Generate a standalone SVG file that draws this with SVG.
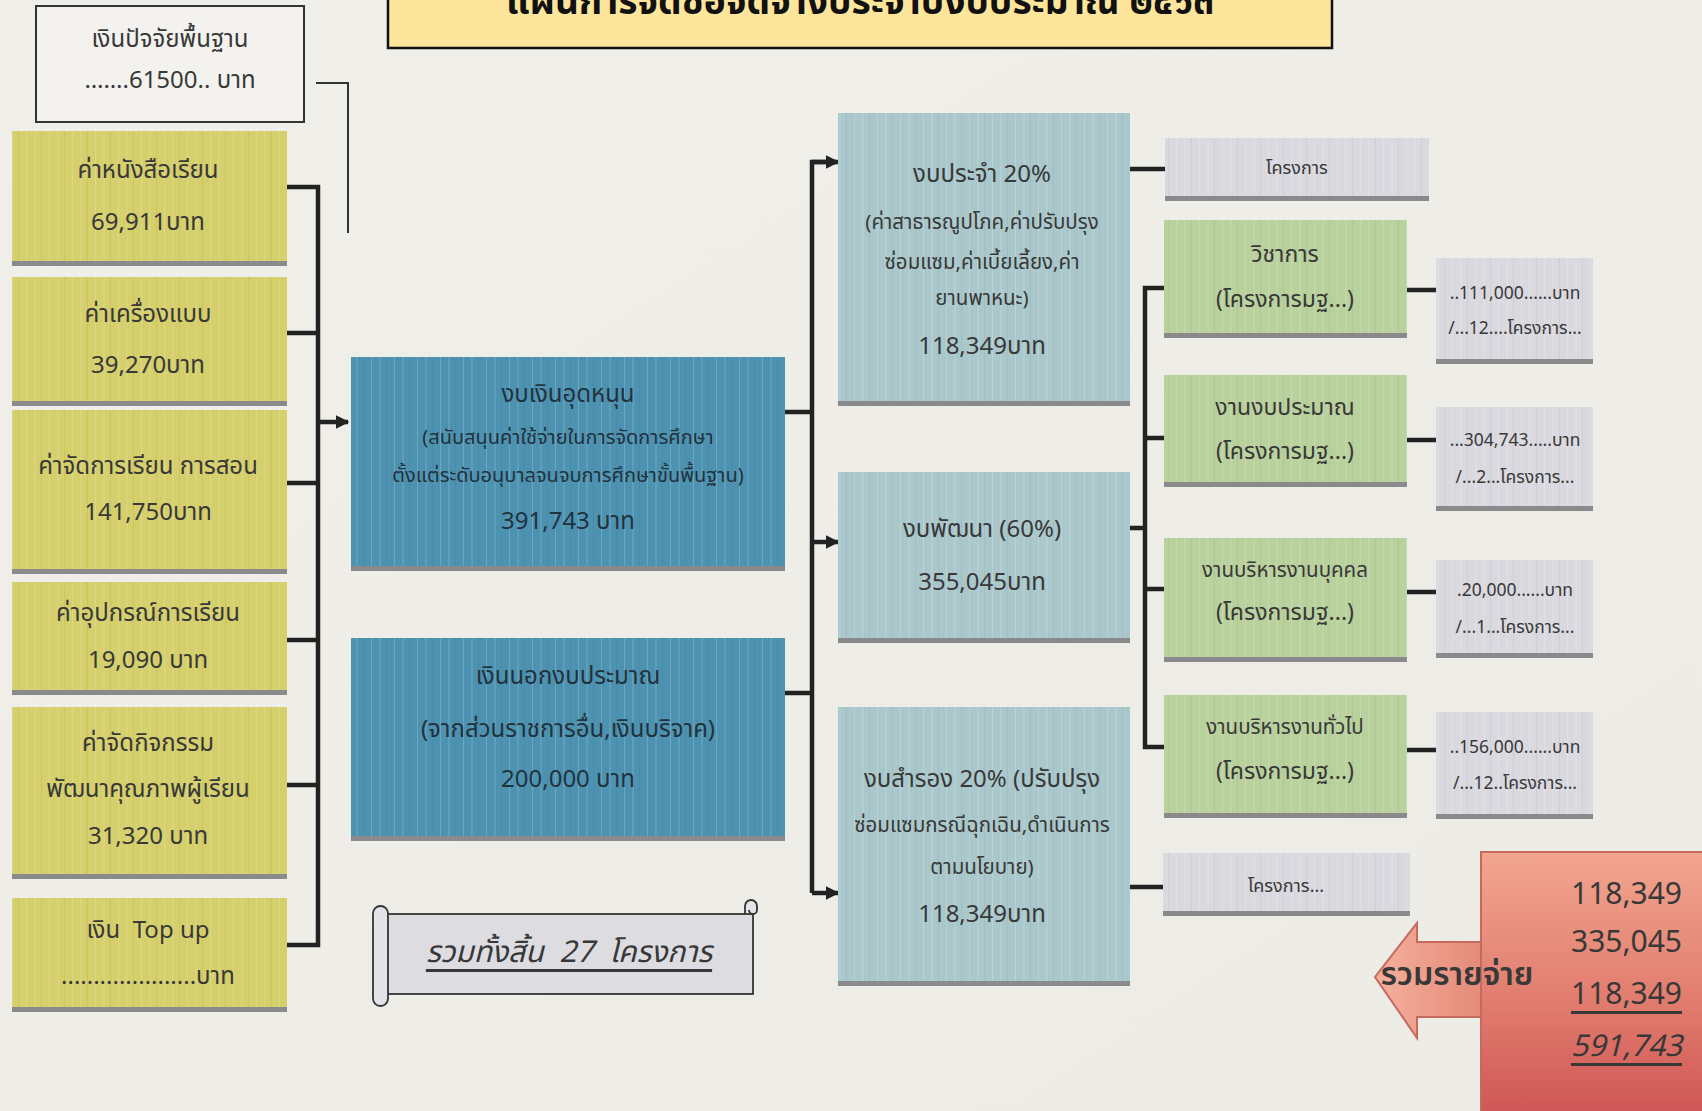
<svg xmlns="http://www.w3.org/2000/svg" width="1702" height="1111" viewBox="0 0 1702 1111">
<defs>
<style>
text{font-family:"Noto Sans Thai","Noto Sans","DejaVu Sans","Liberation Sans",sans-serif;fill:#383838;text-anchor:middle;dominant-baseline:central}
.t24{font-size:24px}
.t23{font-size:23px}
.t20{font-size:20.5px}
.t19{font-size:20px}
.t17{font-size:17.5px}
.t18{font-size:18px}
.yel{fill:#d5cf6c}
.blu{fill:#4d93b1}
.tea{fill:#aac8cb}
.grn{fill:#b9d19c}
.gry{fill:#d9d9df}
.bar{fill:#8a8a8c}
.tex{fill:url(#stripes)}
.wire{fill:none;stroke:#222;stroke-width:4.5}
.thin{fill:none;stroke:#333;stroke-width:2}
.bt{fill:#22323c}
</style>
<pattern id="stripes" width="23" height="40" patternUnits="userSpaceOnUse">
<rect x="3" y="0" width="1" height="40" fill="#ffffff" opacity="0.18"/>
<rect x="11" y="0" width="2" height="40" fill="#ffffff" opacity="0.10"/>
<rect x="18" y="0" width="1" height="40" fill="#000000" opacity="0.05"/>
</pattern>
<marker id="ah" viewBox="0 0 10 10" refX="9" refY="5" markerWidth="3" markerHeight="3" orient="auto" markerUnits="strokeWidth">
<path d="M0,0 L10,5 L0,10 Z" fill="#222"/>
</marker>
<linearGradient id="red" x1="0" y1="0" x2="0" y2="1">
<stop offset="0" stop-color="#f2a58f"/>
<stop offset="0.6" stop-color="#e07a6c"/>
<stop offset="1" stop-color="#cf5656"/>
</linearGradient>
<linearGradient id="redh" x1="0" y1="0" x2="1" y2="0">
<stop offset="0" stop-color="#f4b09c"/>
<stop offset="1" stop-color="#e58a78"/>
</linearGradient>
<linearGradient id="bg" x1="0" y1="0" x2="1" y2="1">
<stop offset="0" stop-color="#f1efe9"/>
<stop offset="1" stop-color="#ecebe6"/>
</linearGradient>
</defs>
<rect x="0" y="0" width="1702" height="1111" fill="url(#bg)"/>

<g id="title">
<rect x="388" y="-6" width="944" height="54" fill="#fde59b" stroke="#111" stroke-width="2.5"/>
<text x="860" y="2" style="font-size:38px;font-weight:bold;fill:#111" textLength="708" lengthAdjust="spacingAndGlyphs">แผนการจัดซื้อจัดจ้างประจำปีงบประมาณ ๒๕๖๓</text>
</g>

<g id="connectors">
<path class="thin" d="M316,83 H348 V233"/>
<path class="wire" d="M287,187 H318 V945 H287 M287,333 H318 M287,483 H318 M287,640 H318 M287,785 H318"/>
<path class="wire" d="M318,422 H348" marker-end="url(#ah)"/>
<path class="wire" d="M785,412 H812 M785,693 H812 M836,162 H812 V893"/>
<path class="wire" d="M812,162 H838" marker-end="url(#ah)"/>
<path class="wire" d="M812,542 H838" marker-end="url(#ah)"/>
<path class="wire" d="M812,893 H838" marker-end="url(#ah)"/>
<path class="wire" d="M1130,169 H1165"/>
<path class="wire" d="M1130,528 H1145 M1164,288 H1145 V747 H1164 M1145,438 H1164 M1145,589 H1164"/>
<path class="wire" d="M1130,887 H1163"/>
<path class="wire" d="M1407,290 H1436 M1407,440 H1436 M1407,592 H1436 M1407,750 H1436"/>
</g>

<g id="base-fund">
<rect x="36" y="6" width="268" height="116" fill="#f3f2ee" stroke="#333" stroke-width="2"/>
<text class="t24" x="170" y="40">เงินปัจจัยพื้นฐาน</text>
<text class="t24" x="170" y="81">…….61500.. บาท</text>
</g>

<g id="y1"><rect class="yel" x="12" y="131" width="275" height="134"/><rect class="tex" x="12" y="131" width="275" height="134"/><rect class="bar" x="12" y="261" width="275" height="5"/>
<text class="t24" x="148" y="171">ค่าหนังสือเรียน</text><text class="t24" x="148" y="223">69,911บาท</text></g>
<g id="y2"><rect class="yel" x="12" y="277" width="275" height="128"/><rect class="tex" x="12" y="277" width="275" height="128"/><rect class="bar" x="12" y="401" width="275" height="5"/>
<text class="t24" x="148" y="315">ค่าเครื่องแบบ</text><text class="t24" x="148" y="366">39,270บาท</text></g>
<g id="y3"><rect class="yel" x="12" y="410" width="275" height="163"/><rect class="tex" x="12" y="410" width="275" height="163"/><rect class="bar" x="12" y="569" width="275" height="5"/>
<text class="t24" x="148" y="467">ค่าจัดการเรียน การสอน</text><text class="t24" x="148" y="513">141,750บาท</text></g>
<g id="y4"><rect class="yel" x="12" y="582" width="275" height="112"/><rect class="tex" x="12" y="582" width="275" height="112"/><rect class="bar" x="12" y="690" width="275" height="5"/>
<text class="t24" x="148" y="614">ค่าอุปกรณ์การเรียน</text><text class="t24" x="148" y="661">19,090 บาท</text></g>
<g id="y5"><rect class="yel" x="12" y="707" width="275" height="171"/><rect class="tex" x="12" y="707" width="275" height="171"/><rect class="bar" x="12" y="874" width="275" height="5"/>
<text class="t24" x="148" y="744">ค่าจัดกิจกรรม</text><text class="t24" x="148" y="790">พัฒนาคุณภาพผู้เรียน</text><text class="t24" x="148" y="837">31,320 บาท</text></g>
<g id="y6"><rect class="yel" x="12" y="898" width="275" height="113"/><rect class="tex" x="12" y="898" width="275" height="113"/><rect class="bar" x="12" y="1007" width="275" height="5"/>
<text class="t24" x="148" y="931" xml:space="preserve">เงิน  Top up</text><text class="t24" x="148" y="977">.....................บาท</text></g>

<g id="subsidy"><rect class="blu" x="351" y="357" width="434" height="213"/><rect class="tex" x="351" y="357" width="434" height="213"/><rect class="bar" x="351" y="566" width="434" height="5"/>
<text class="t24 bt" x="568" y="395">งบเงินอุดหนุน</text>
<text class="t19 bt" x="568" y="438">(สนับสนุนค่าใช้จ่ายในการจัดการศึกษา</text>
<text class="t19 bt" x="568" y="476">ตั้งแต่ระดับอนุบาลจนจบการศึกษาขั้นพื้นฐาน)</text>
<text class="t24 bt" x="568" y="522">391,743 บาท</text></g>

<g id="offbudget"><rect class="blu" x="351" y="638" width="434" height="202"/><rect class="tex" x="351" y="638" width="434" height="202"/><rect class="bar" x="351" y="836" width="434" height="5"/>
<text class="t24 bt" x="568" y="677">เงินนอกงบประมาณ</text>
<text class="t24 bt" x="568" y="730">(จากส่วนราชการอื่น,เงินบริจาค)</text>
<text class="t24 bt" x="568" y="780">200,000 บาท</text></g>

<g id="regular"><rect class="tea" x="838" y="113" width="292" height="292"/><rect class="tex" x="838" y="113" width="292" height="292"/><rect class="bar" x="838" y="401" width="292" height="5"/>
<text class="t24" x="982" y="175">งบประจำ 20%</text>
<text class="t20" x="982" y="222">(ค่าสาธารณูปโภค,ค่าปรับปรุง</text>
<text class="t20" x="982" y="262">ซ่อมแซม,ค่าเบี้ยเลี้ยง,ค่า</text>
<text class="t20" x="982" y="298">ยานพาหนะ)</text>
<text class="t24" x="982" y="347">118,349บาท</text></g>

<g id="develop"><rect class="tea" x="838" y="472" width="292" height="170"/><rect class="tex" x="838" y="472" width="292" height="170"/><rect class="bar" x="838" y="638" width="292" height="5"/>
<text class="t24" x="982" y="530">งบพัฒนา (60%)</text>
<text class="t24" x="982" y="583">355,045บาท</text></g>

<g id="reserve"><rect class="tea" x="838" y="707" width="292" height="278"/><rect class="tex" x="838" y="707" width="292" height="278"/><rect class="bar" x="838" y="981" width="292" height="5"/>
<text class="t24" x="982" y="780">งบสำรอง 20% (ปรับปรุง</text>
<text class="t20" x="982" y="825">ซ่อมแซมกรณีฉุกเฉิน,ดำเนินการ</text>
<text class="t20" x="982" y="867">ตามนโยบาย)</text>
<text class="t24" x="982" y="915">118,349บาท</text></g>

<g id="proj-top"><rect class="gry" x="1165" y="138" width="264" height="62"/><rect class="tex" x="1165" y="138" width="264" height="62"/><rect class="bar" x="1165" y="196" width="264" height="5"/>
<text class="t18" x="1297" y="168">โครงการ</text></g>

<g id="academic"><rect class="grn" x="1164" y="220" width="243" height="117"/><rect class="tex" x="1164" y="220" width="243" height="117"/><rect class="bar" x="1164" y="333" width="243" height="5"/>
<text class="t23" x="1285" y="255">วิชาการ</text><text class="t23" x="1285" y="300">(โครงการมฐ...)</text></g>
<g id="budget"><rect class="grn" x="1164" y="375" width="243" height="111"/><rect class="tex" x="1164" y="375" width="243" height="111"/><rect class="bar" x="1164" y="482" width="243" height="5"/>
<text class="t23" x="1285" y="408">งานงบประมาณ</text><text class="t23" x="1285" y="452">(โครงการมฐ...)</text></g>
<g id="personnel"><rect class="grn" x="1164" y="538" width="243" height="123"/><rect class="tex" x="1164" y="538" width="243" height="123"/><rect class="bar" x="1164" y="657" width="243" height="5"/>
<text class="t20" x="1285" y="570">งานบริหารงานบุคคล</text><text class="t23" x="1285" y="613">(โครงการมฐ...)</text></g>
<g id="general"><rect class="grn" x="1164" y="695" width="243" height="122"/><rect class="tex" x="1164" y="695" width="243" height="122"/><rect class="bar" x="1164" y="813" width="243" height="5"/>
<text class="t20" x="1285" y="727">งานบริหารงานทั่วไป</text><text class="t23" x="1285" y="772">(โครงการมฐ...)</text></g>

<g id="proj-bottom"><rect class="gry" x="1163" y="853" width="247" height="62"/><rect class="tex" x="1163" y="853" width="247" height="62"/><rect class="bar" x="1163" y="911" width="247" height="5"/>
<text class="t18" x="1286" y="886">โครงการ...</text></g>

<g id="amt1"><rect class="gry" x="1436" y="258" width="157" height="105"/><rect class="tex" x="1436" y="258" width="157" height="105"/><rect class="bar" x="1436" y="359" width="157" height="5"/>
<text class="t17" x="1515" y="293">..111,000......บาท</text><text class="t17" x="1515" y="328">/...12....โครงการ...</text></g>
<g id="amt2"><rect class="gry" x="1436" y="407" width="157" height="103"/><rect class="tex" x="1436" y="407" width="157" height="103"/><rect class="bar" x="1436" y="506" width="157" height="5"/>
<text class="t17" x="1515" y="440">...304,743.....บาท</text><text class="t17" x="1515" y="477">/...2...โครงการ...</text></g>
<g id="amt3"><rect class="gry" x="1436" y="560" width="157" height="97"/><rect class="tex" x="1436" y="560" width="157" height="97"/><rect class="bar" x="1436" y="653" width="157" height="5"/>
<text class="t17" x="1515" y="590">.20,000......บาท</text><text class="t17" x="1515" y="627">/...1...โครงการ...</text></g>
<g id="amt4"><rect class="gry" x="1436" y="712" width="157" height="106"/><rect class="tex" x="1436" y="712" width="157" height="106"/><rect class="bar" x="1436" y="814" width="157" height="5"/>
<text class="t17" x="1515" y="747">..156,000......บาท</text><text class="t17" x="1515" y="783">/...12..โครงการ...</text></g>

<g id="total-scroll">
<rect x="381" y="914" width="372" height="80" fill="#dcdce1" stroke="#333" stroke-width="1.8"/>
<rect x="373" y="906" width="15" height="100" rx="7.5" fill="#e4e4e8" stroke="#333" stroke-width="1.8"/>
<path d="M745,914 V906 A6,6 0 0 1 757,906 V910 A4,4 0 0 1 749,910" fill="#e4e4e8" stroke="#333" stroke-width="1.8"/>
<text x="569" y="953" style="font-size:30px;font-style:italic;text-decoration:underline" xml:space="preserve">รวมทั้งสิ้น  27  โครงการ</text>
</g>

<g id="total-expense">
<polygon points="1483,942 1417,942 1417,923 1375,977 1417,1038 1417,1017 1483,1017" fill="url(#redh)" stroke="#c46a5e" stroke-width="2"/>
<rect x="1481" y="852" width="223" height="262" fill="url(#red)" stroke="#c46a5e" stroke-width="2"/>
<text x="1457" y="975" style="font-size:32px;font-weight:600">รวมรายจ่าย</text>
<text x="1682" y="895" style="font-size:30px;text-anchor:end">118,349</text>
<text x="1682" y="943" style="font-size:30px;text-anchor:end">335,045</text>
<text x="1682" y="995" style="font-size:30px;text-anchor:end;text-decoration:underline">118,349</text>
<text x="1682" y="1047" style="font-size:30px;text-anchor:end;text-decoration:underline;font-style:italic">591,743</text>
</g>
</svg>
